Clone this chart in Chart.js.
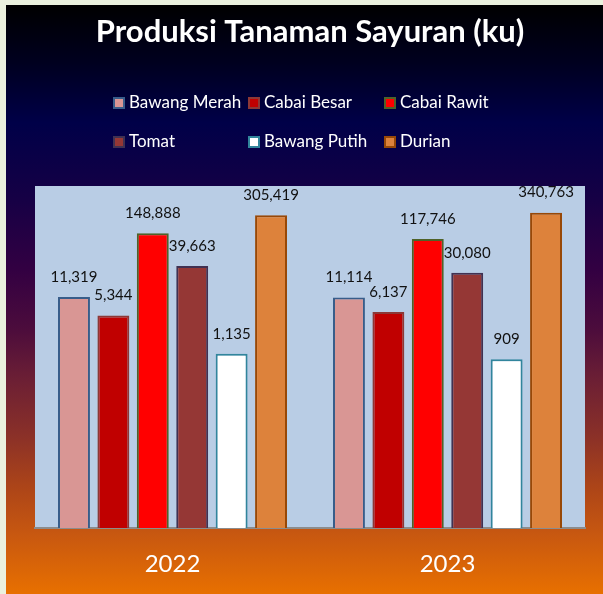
<!DOCTYPE html>
<html>
<head>
<meta charset="utf-8">
<script src="https://cdn.jsdelivr.net/npm/chart.js@4.4.0/dist/chart.umd.min.js"></script>
<style>
  html, body { margin: 0; padding: 0; background: #ebf1de; overflow: hidden; }
  #wrap { position: absolute; left: 6px; top: 5px; width: 597px; height: 589px; }
</style>
</head>
<body>
<div id="wrap"><canvas id="chart"></canvas></div>
<script>
// data (ku)
const years = ["2022", "2023"];
const bawangMerah = [11319, 11114];
const cabaiBesar = [5344, 6137];
const cabaiRawit = [148888, 117746];
const tomat = [39663, 30080];
const bawangPutih = [1135, 909];
const durian = [305419, 340763];

const seriesNames = ["Bawang Merah", "Cabai Besar", "Cabai Rawit", "Tomat", "Bawang Putih", "Durian"];
const seriesValues = [bawangMerah, cabaiBesar, cabaiRawit, tomat, bawangPutih, durian];
const fillColors = ["#d99694", "#c00000", "#ff0000", "#953735", "#ffffff", "#dd823b"];
const edgeColors = ["#385d8a", "#8c3836", "#4f6228", "#403152", "#31859c", "#984807"];

const FONT = "Lato, 'Open Sans', sans-serif";

// whole-canvas gradient + light blue plot area
const backdrop = {
  id: "backdrop",
  beforeDraw(chart) {
    const { ctx, width, height, chartArea: a } = chart;
    ctx.save();
    const g = ctx.createLinearGradient(0, 0, 0, height);
    g.addColorStop(0.0, "#000000");
    g.addColorStop(0.1, "#000020");
    g.addColorStop(0.2, "#000048");
    g.addColorStop(0.33, "#160045");
    g.addColorStop(0.45, "#330042");
    g.addColorStop(0.55, "#4c0c3c");
    g.addColorStop(0.63, "#6a1e35");
    g.addColorStop(0.73, "#8a3028");
    g.addColorStop(0.82, "#ad4518");
    g.addColorStop(0.9, "#c85810");
    g.addColorStop(1.0, "#e87000");
    ctx.fillStyle = g;
    ctx.fillRect(0, 0, width, height);
    ctx.fillStyle = "#b9cde5";
    ctx.fillRect(a.left, a.top, a.right - a.left, a.bottom - a.top);
    ctx.restore();
  },
};

// value labels above each bar
const valueLabels = {
  id: "valueLabels",
  afterDatasetsDraw(chart) {
    const ctx = chart.ctx;
    ctx.save();
    ctx.fillStyle = "#111111";
    ctx.font = `15px ${FONT}`;
    ctx.textAlign = "center";
    ctx.textBaseline = "middle";
    chart.data.datasets.forEach((ds, i) => {
      chart.getDatasetMeta(i).data.forEach((bar, j) => {
        ctx.fillText(ds.data[j].toLocaleString("en-US"), bar.x, bar.y - 20);
      });
    });
    ctx.restore();
  },
};

// 3-column legend grid like the original
const gridLegend = {
  id: "gridLegend",
  afterDraw(chart) {
    const ctx = chart.ctx;
    const colX = [107, 242, 378];
    const rowY = [98, 137];
    ctx.save();
    ctx.font = `17px ${FONT}`;
    ctx.textBaseline = "middle";
    chart.data.datasets.forEach((ds, i) => {
      const x = colX[i % 3];
      const y = rowY[Math.floor(i / 3)];
      ctx.fillStyle = ds.borderColor;
      ctx.fillRect(x, y - 6, 12, 12);
      ctx.fillStyle = ds.backgroundColor;
      ctx.fillRect(x + 2, y - 4, 8, 8);
      ctx.fillStyle = "#ffffff";
      ctx.fillText(ds.label, x + 16, y);
    });
    ctx.restore();
  },
};

const datasets = seriesNames.map((name, i) => ({
  label: name,
  data: seriesValues[i],
  backgroundColor: fillColors[i],
  borderColor: edgeColors[i],
  borderWidth: 2,
  categoryPercentage: 0.86,
  barPercentage: 0.81,
}));

new Chart(document.getElementById("chart"), {
  type: "bar",
  data: { labels: years, datasets },
  options: {
    responsive: true,
    maintainAspectRatio: false,
    animation: false,
    layout: { padding: { left: 29, right: 18, top: 0, bottom: 0 } },
    plugins: {
      legend: { display: false },
      tooltip: { enabled: false },
      title: {
        display: true,
        text: "Produksi Tanaman Sayuran (ku)",
        color: "#ffffff",
        font: { family: FONT, size: 31, weight: "bold", lineHeight: 1.2 },
        padding: { top: 8, bottom: 135.8 },
      },
    },
    scales: {
      y: { type: "logarithmic", min: 1, max: 1000000, display: false },
      x: {
        z: 1,
        grid: { display: false, drawTicks: false },
        border: { display: true, color: "#8c8c8c", width: 2 },
        ticks: { color: "#ffffff", padding: 22, font: { family: FONT, size: 24 } },
        afterFit(scale) { scale.height = 66; },
      },
    },
  },
  plugins: [backdrop, valueLabels, gridLegend],
});
</script>
</body>
</html>
